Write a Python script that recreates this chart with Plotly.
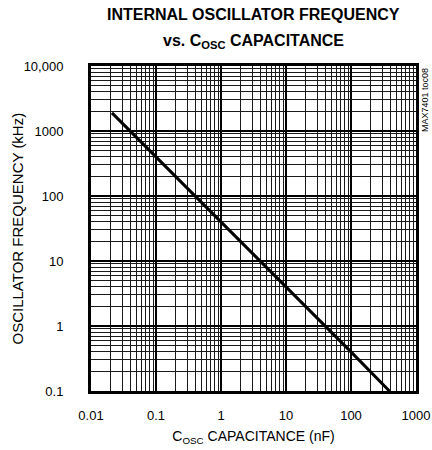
import plotly.graph_objects as go

# Data (C in nF, f in kHz)
cap_nf = [0.021, 0.1, 1, 10, 100, 390]
freq_khz = [1900, 400, 40, 4, 0.4, 0.1]

x_tickvals = [0.01, 0.1, 1, 10, 100, 1000]
x_ticktext = ["0.01", "0.1", "1", "10", "100", "1000"]
y_tickvals = [0.1, 1, 10, 100, 1000, 10000]
y_ticktext = ["0.1", "1", "10", "100", "1000", "10,000"]

title_lines = ["INTERNAL OSCILLATOR FREQUENCY", "vs. C<sub>OSC</sub> CAPACITANCE"]
x_title = "C<sub>OSC</sub> CAPACITANCE (nF)"
y_title = "OSCILLATOR FREQUENCY (kHz)"

FONT = "Liberation Sans, Arial, Helvetica, sans-serif"

fig = go.Figure()
fig.add_trace(go.Scatter(x=cap_nf, y=freq_khz, mode="lines",
                         line=dict(color="black", width=3), showlegend=False,
                         hoverinfo="skip"))

axis_common = dict(
    type="log", showline=True, linecolor="black", linewidth=3, mirror=True,
    showgrid=True, gridcolor="black", gridwidth=2, zeroline=False,
    ticks="", tickmode="array", automargin=False,
    tickfont=dict(family=FONT, size=13, color="black"),
    minor=dict(dtick="D1", showgrid=True, gridcolor="#1a1a1a", gridwidth=1, ticks=""),
)

fig.update_xaxes(**axis_common, range=[-2, 3], tickvals=x_tickvals, ticktext=x_ticktext,
                 ticklabelstandoff=10,
                 title=dict(text=x_title,
                            font=dict(family=FONT, size=14, color="black"), standoff=10))
fig.update_yaxes(**axis_common, range=[-1, 4], tickvals=y_tickvals, ticktext=y_ticktext,
                 ticklabelstandoff=22)

fig.update_layout(
    width=432, height=450,
    margin=dict(l=91, r=16, t=66, b=59),
    paper_bgcolor="white", plot_bgcolor="white",
    annotations=[
        dict(text="<b>" + title_lines[0] + "</b>", xref="paper", yref="paper",
             x=0.5, y=1.0 + 51 / 325, xanchor="center", yanchor="middle", showarrow=False,
             font=dict(family=FONT, size=16, color="black")),
        dict(text="<b>" + title_lines[1] + "</b>", xref="paper", yref="paper",
             x=0.5, y=1.0 + 25 / 325, xanchor="center", yanchor="middle", showarrow=False,
             font=dict(family=FONT, size=16, color="black")),
        dict(text=y_title, textangle=-90, xref="paper", yref="paper",
             x=-74 / 325, y=0.5, xanchor="center", yanchor="middle", showarrow=False,
             font=dict(family=FONT, size=15, color="black")),
        dict(text="MAX7401 toc08", textangle=-90, xref="paper", yref="paper",
             x=1.028, y=1.0, xanchor="center", yanchor="top", showarrow=False,
             font=dict(family=FONT, size=9, color="black")),
    ],
)

# remove the default page margin so the 432x450 figure fills the window exactly
fig.write_html("out.html", config={"displayModeBar": False},
               post_script="document.body.style.margin='0';document.body.style.overflow='hidden';")
